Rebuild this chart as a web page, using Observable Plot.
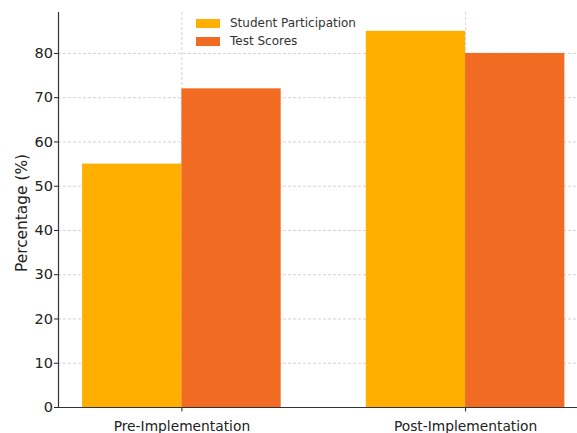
<!DOCTYPE html>
<html><head><meta charset="utf-8">
<script src="https://cdn.jsdelivr.net/npm/d3@7"></script>
<script src="https://cdn.jsdelivr.net/npm/@observablehq/plot@0.6"></script>
<style>
body{margin:0;background:#fff;font-family:"DejaVu Sans",sans-serif;}
#wrap{position:relative;width:577px;height:433px;}
#legend{position:absolute;left:190px;top:11px;background:rgba(255,255,255,0.85);padding:3px 6px;font-size:12px;color:#333;}
.row{display:flex;align-items:center;height:18px;}
.sw{width:24px;height:9px;margin-right:10px;}
#chart svg g[aria-label="y-axis tick label"]{font-size:14.5px;fill:#222;}
#chart svg g[aria-label="x-axis tick label"]{font-size:13.8px;fill:#222;}
#chart svg g[aria-label="text"]{font-size:15.4px;fill:#222;}
</style></head><body>
<div id="wrap"><div id="chart"></div><div id="legend"></div></div>
<script>
const categories = ["Pre-Implementation", "Post-Implementation"];
const series = ["Student Participation", "Test Scores"];
const participation = [55, 85];
const testScores = [72, 80];
const yTicks = [0, 10, 20, 30, 40, 50, 60, 70, 80];
const colors = ["#FEAF00", "#F26B23"];

const barW = 0.35;
const rows = [];
categories.forEach((c, i) => {
  rows.push({cat: c, s: series[0], x1: i - barW, x2: i, v: participation[i]});
  rows.push({cat: c, s: series[1], x1: i, x2: i + barW, v: testScores[i]});
});

const chart = Plot.plot({
  width: 577, height: 433,
  marginLeft: 58, marginRight: 0, marginTop: 12, marginBottom: 26,
  style: {fontFamily: "DejaVu Sans, sans-serif", color: "#222"},
  x: {type: "linear", domain: [-0.435, 1.3945], label: null},
  y: {domain: [0, 89.25], label: null},
  color: {domain: series, range: colors},
  marks: [
    Plot.gridY(yTicks, {stroke: "#b0b0b0", strokeOpacity: 0.7, strokeDasharray: "3,2", strokeWidth: 0.8}),
    Plot.gridX([0, 1], {stroke: "#b0b0b0", strokeOpacity: 0.7, strokeDasharray: "3,2", strokeWidth: 0.8}),
    Plot.rectY(rows, {x1: "x1", x2: "x2", y1: 0, y2: "v", fill: "s", inset: 0}),
    Plot.axisY({ticks: yTicks, tickSize: 4, tickPadding: 1.5, fontSize: 14.5, label: null}),
    Plot.axisX({ticks: [0, 1], tickFormat: i => categories[i], tickSize: 4.5, tickPadding: 9, fontSize: 13.8, label: null}),
    Plot.ruleY([0], {stroke: "#333", strokeWidth: 1.2}),
    Plot.ruleX([-0.435], {stroke: "#333", strokeWidth: 1.2}),
    Plot.text(["Percentage (%)"], {frameAnchor: "left", textAnchor: "middle", rotate: -90, dx: -36, dy: 3, fontSize: 15.4, fill: "#222"})
  ]
});
document.getElementById("chart").appendChild(chart);

const lg = document.getElementById("legend");
series.forEach((s, i) => {
  const r = document.createElement("div"); r.className = "row";
  r.innerHTML = `<div class="sw" style="background:${colors[i]}"></div><span>${s}</span>`;
  lg.appendChild(r);
});
</script></body></html>
